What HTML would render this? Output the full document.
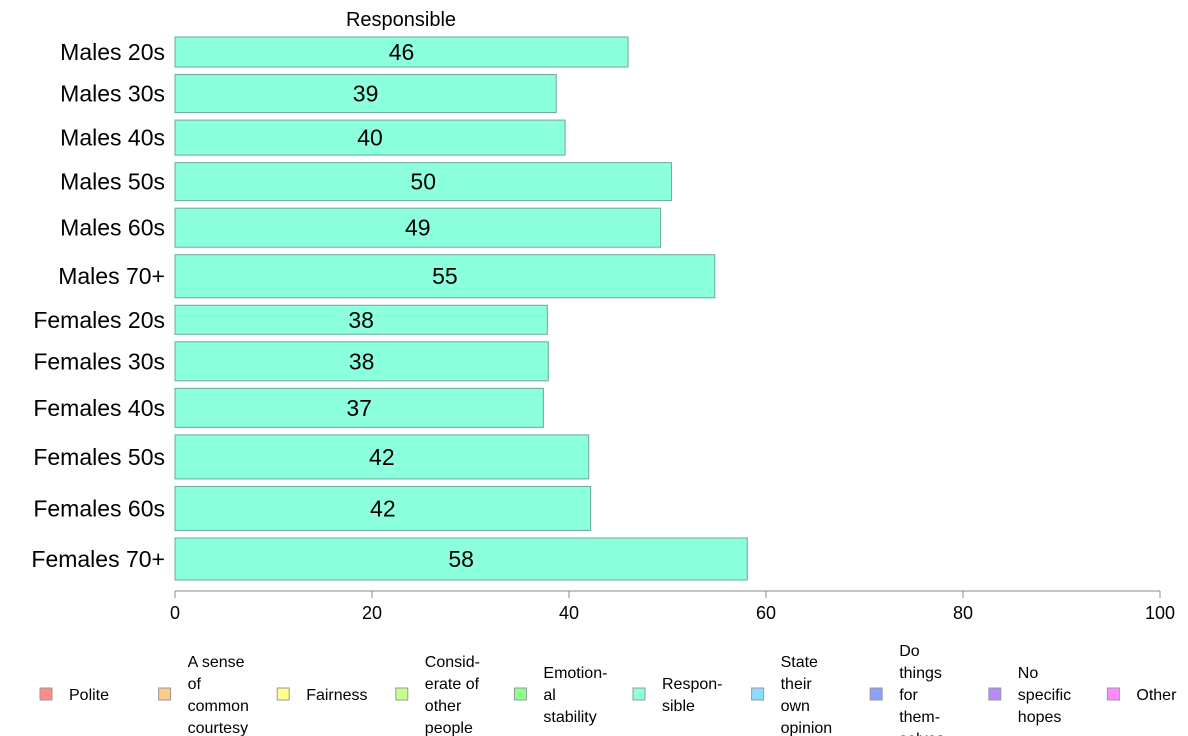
<!DOCTYPE html>
<html><head><meta charset="utf-8"><style>
body{margin:0;background:#fff;}
svg{display:block;font-family:"Liberation Sans",Arial,sans-serif;}
</style></head><body>
<svg id="chart" width="1188" height="736"></svg>
<script>
const categories=["Males 20s","Males 30s","Males 40s","Males 50s","Males 60s","Males 70+","Females 20s","Females 30s","Females 40s","Females 50s","Females 60s","Females 70+"];
const values=[46.0,38.7,39.6,50.4,49.3,54.8,37.8,37.9,37.4,42.0,42.2,58.1];
const labels=["46","39","40","50","49","55","38","38","37","42","42","58"];
const weights=[30,38,35,38,39,43,29,39,39,44,44,42];
const ticks=[0,20,40,60,80,100];
const legendNames=[["Polite"],["A sense","of","common","courtesy"],["Fairness"],["Consid-","erate of","other","people"],["Emotion-","al","stability"],["Respon-","sible"],["State","their","own","opinion"],["Do","things","for","them-","selves"],["No","specific","hopes"],["Other"]];
const legendColors=["#ff8c8c","#ffc88c","#ffff8c","#c8ff8c","#8cff8c","#8cffdc","#8cdcff","#8ca0ff","#b48cff","#ff8cff"];
const NS="http://www.w3.org/2000/svg";
const svg=document.getElementById("chart");
function mk(t,a,p){const e=document.createElementNS(NS,t);for(const k in a)e.setAttribute(k,a[k]);(p||svg).appendChild(e);return e;}
const x0=175,x1=1160,plotTop=37,plotBottom=580;
const xs=v=>x0+(x1-x0)*v/100;
const gapTotal=(plotBottom-plotTop)-weights.reduce((a,b)=>a+b,0);
const gap=gapTotal/(weights.length-1);
const t=mk("text",{x:401,y:26,"font-size":20,"text-anchor":"middle"});


t.textContent="Responsible";
let yy=plotTop;
categories.forEach((c,i)=>{
  const h=weights[i];
  const r=mk("rect",{x:x0,y:yy,width:xs(values[i])-x0,height:h,fill:"#8cffdc",stroke:"#6aa89a","stroke-width":1});
  
  
  const vl=mk("text",{x:(x0+xs(values[i]))/2,y:yy+h/2+8,"font-size":23,"text-anchor":"middle"});
  
  
  vl.textContent=labels[i];
  const cl=mk("text",{x:165,y:yy+h/2+8,"font-size":23,"text-anchor":"end"});
  
  
  cl.textContent=c;
  yy+=h+gap;
});
const ax=mk("line",{x1:x0,x2:x1,y1:591,y2:591,stroke:"#888","stroke-width":1});


ticks.forEach(v=>{
  const tk=mk("line",{x1:xs(v),x2:xs(v),y1:591,y2:598,stroke:"#888"});
  
  
  const tl=mk("text",{x:xs(v),y:619,"font-size":18,"text-anchor":"middle"});
  
  
  tl.textContent=v;
});
legendNames.forEach((lines,i)=>{
  const lx=40+i*118.6;
  const sw=mk("rect",{x:lx,y:688,width:12,height:12,fill:legendColors[i],stroke:"#999"});
  
  
  const n=lines.length,lh=22;
  const t0=694-(n-1)*lh/2+6;
  lines.forEach((ln,j)=>{
    const lt=mk("text",{x:lx+29,y:t0+j*lh,"font-size":16});
    
    
    lt.textContent=ln;
  });
});
</script>
</body></html>
